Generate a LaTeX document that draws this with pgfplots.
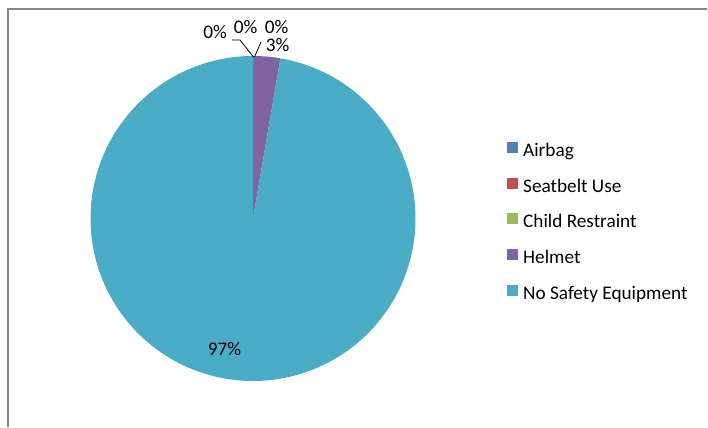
\documentclass[border=0pt]{standalone}
\usepackage{pgfplots}
\usepackage{pgfplotstable}
\pgfplotsset{compat=1.18}
\usepackage{fontspec}
\setmainfont{Carlito}
\definecolor{cAir}{HTML}{4F81BD}
\definecolor{cSeat}{HTML}{C0504D}
\definecolor{cChild}{HTML}{9BBB59}
\definecolor{cHelm}{HTML}{8064A2}
\definecolor{cNone}{HTML}{4BACC6}
\definecolor{frame}{HTML}{868686}
\pgfplotstableread{
cat value
Airbag 0
Seatbelt 0
Child 0
Helmet 2.7
None 97.3
}\datatable
\pgfplotstablegetelem{3}{value}\of\datatable \let\vHelm\pgfplotsretval
\pgfplotstablegetelem{4}{value}\of\datatable \let\vNone\pgfplotsretval
\pgfmathsetmacro{\aA}{90}
\pgfmathsetmacro{\aB}{90-3.6*\vHelm}
\pgfmathsetmacro{\aC}{\aB-3.6*\vNone}
\def\cx{253}\def\cy{208.5}\def\rr{162.5}
\newcommand\lf{\fontsize{19.3}{21}\selectfont}
\begin{document}
\begin{tikzpicture}
\begin{axis}[
  scale only axis, width=708bp, height=427bp,
  xmin=0, xmax=708, ymin=0, ymax=427,
  hide axis, clip=false,
  legend style={at={(axis cs:507,285)}, anchor=north west, draw=none, fill=none,
    font=\lf, row sep=17.1bp, inner sep=0pt,
    nodes={inner sep=0pt, text height=13bp, text depth=4bp}},
  legend cell align=left,
  legend image code/.code={\path[#1, draw=none] (0bp,-1bp) rectangle (11bp,10bp);},
]
\path (axis cs:0,0) rectangle (axis cs:708,427);
% frame
\addplot[frame, line width=1.2bp, forget plot] coordinates {(8,0) (8,418) (707,418)};
% slices
\addplot[fill=cHelm, draw=none, domain=\aA:\aB, samples=40, variable=\t, forget plot]
  ({\cx+\rr*cos(\t)},{\cy+\rr*sin(\t)}) -- (axis cs:\cx,\cy) -- cycle;
\addplot[fill=cNone, draw=none, domain=\aB:\aC, samples=300, variable=\t, forget plot]
  ({\cx+\rr*cos(\t)},{\cy+\rr*sin(\t)}) -- (axis cs:\cx,\cy) -- cycle;
% leader lines
\addplot[black, line width=0.8bp, forget plot] coordinates {(232,387) (240,387) (253.5,370)};
\addplot[black, line width=0.8bp, forget plot] coordinates {(261,385) (254.5,370)};
% labels
\tikzset{lab/.style={font=\lf, inner sep=0pt}}
\node[lab] at (axis cs:215,394.5) {0\%};
\node[lab] at (axis cs:245.5,400) {0\%};
\node[lab] at (axis cs:276.5,400) {0\%};
\node[lab] at (axis cs:277.5,381.5) {3\%};
\node[lab] at (axis cs:224.5,78) {97\%};
% legend
\addlegendimage{fill=cAir}
\addlegendentry{\hspace{5bp}Airbag}
\addlegendimage{fill=cSeat}
\addlegendentry{\hspace{5bp}Seatbelt Use}
\addlegendimage{fill=cChild}
\addlegendentry{\hspace{5bp}Child Restraint}
\addlegendimage{fill=cHelm}
\addlegendentry{\hspace{5bp}Helmet}
\addlegendimage{fill=cNone}
\addlegendentry{\hspace{5bp}No Safety Equipment}
\end{axis}
\end{tikzpicture}
\end{document}
